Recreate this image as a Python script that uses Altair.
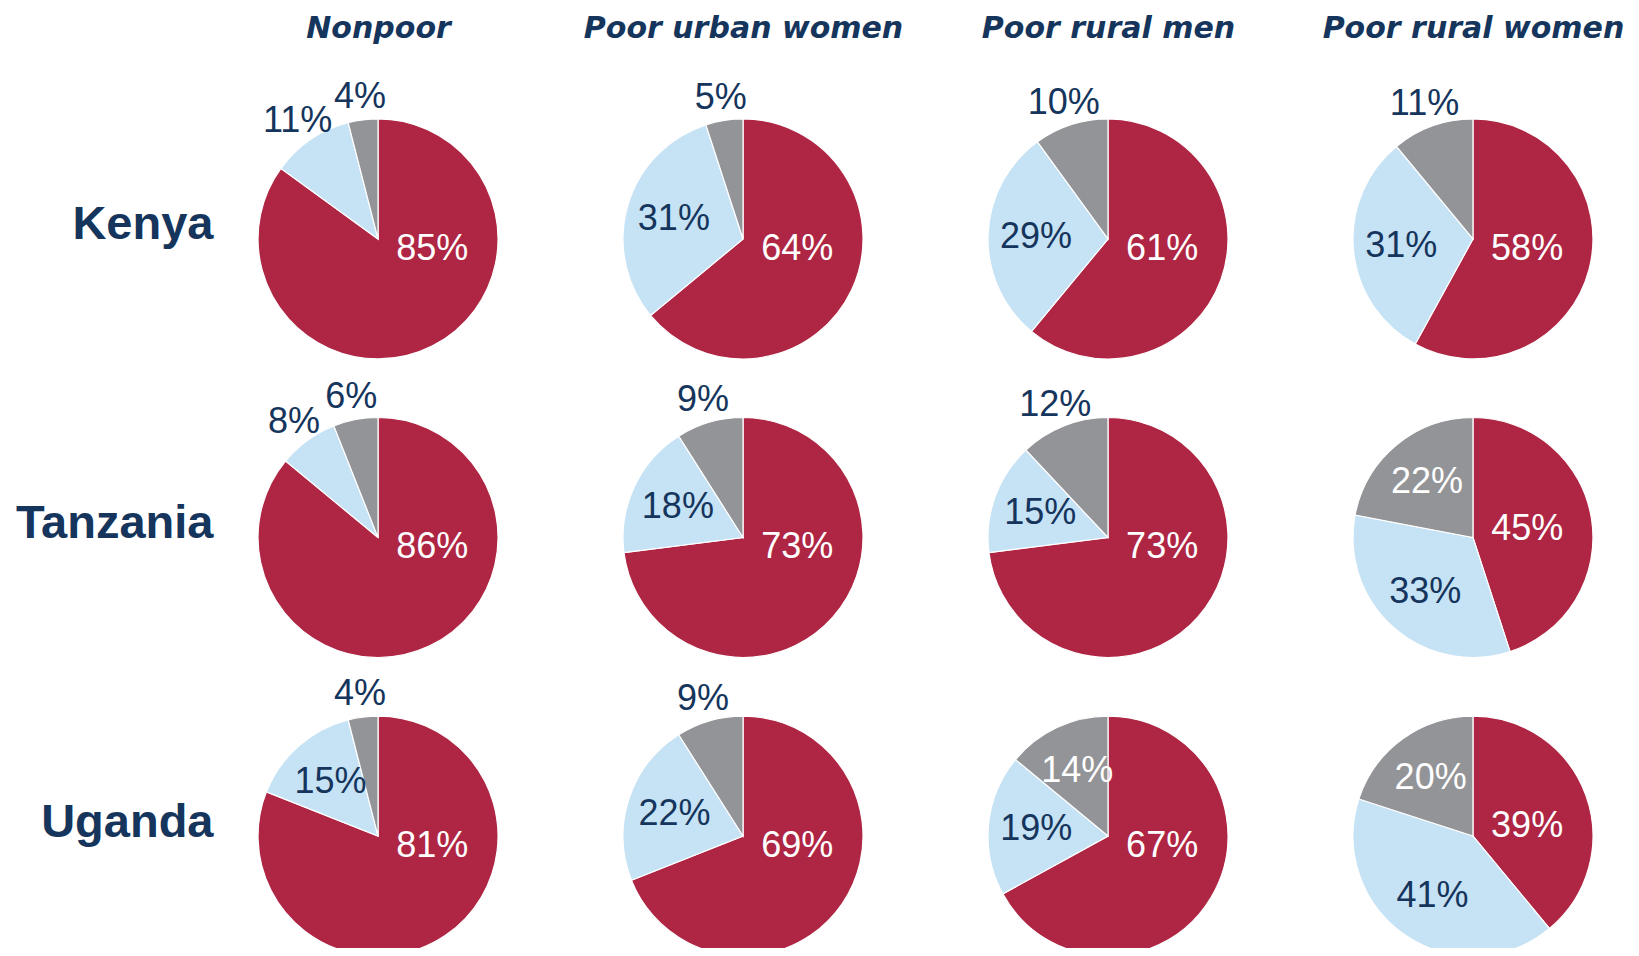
import altair as alt
import pandas as pd

countries = ["Kenya", "Tanzania", "Uganda"]
groups = ["Nonpoor", "Poor urban women", "Poor rural men", "Poor rural women"]
segments = ["A", "B", "C"]

# shares (%) per country (rows) and group (columns)
seg_a = [[85, 64, 61, 58], [86, 73, 73, 45], [81, 69, 67, 39]]
seg_b = [[11, 31, 29, 31], [8, 18, 15, 33], [15, 22, 19, 41]]
seg_c = [[4, 5, 10, 11], [6, 9, 12, 22], [4, 9, 14, 20]]

seg_colors = ["#AF2544", "#C6E2F5", "#939498"]
navy = "#15355C"

rows = []
for ci, c in enumerate(countries):
    for gi, g in enumerate(groups):
        for si, (s, arr) in enumerate(zip(segments, [seg_a, seg_b, seg_c])):
            v = arr[ci][gi]
            rows.append({"country": c, "group": g, "seg": s, "ord": si,
                         "value": v, "label": f"{v}%"})
df = pd.DataFrame(rows)

x_enc = alt.X("group:N", sort=groups,
              scale=alt.Scale(type="point", domain=groups, padding=0.433),
              axis=alt.Axis(orient="top", title=None, domain=False, ticks=False, tickSize=0,
                            grid=False, labelAngle=0, labelFont="DejaVu Sans",
                            labelFontWeight="bold", labelFontStyle="italic", labelFontSize=30,
                            labelColor=navy, labelPadding=90, labelBaseline="alphabetic",
                            labelLimit=0, labelOverlap=False, labelBound=False))
y_enc = alt.Y("country:N", sort=countries,
              scale=alt.Scale(type="point", domain=countries, padding=0.375),
              axis=alt.Axis(orient="left", title=None, domain=False, ticks=False, tickSize=0,
                            grid=False, labelFont="Liberation Sans", labelFontWeight="bold",
                            labelFontSize=47, labelColor=navy, labelPadding=7,
                            labelBaseline="alphabetic", labelAlign="right",
                            labelLimit=0, labelOverlap=False, labelBound=False))

base = alt.Chart(df).transform_window(
    cum="sum(value)", groupby=["country", "group"], sort=[alt.SortField("ord")], frame=[None, 0]
).transform_joinaggregate(
    total="sum(value)", groupby=["country", "group"]
).transform_calculate(
    start="(datum.cum - datum.value) / datum.total * 2 * PI",
    end="datum.cum / datum.total * 2 * PI",
    mid="(datum.cum - datum.value / 2) / datum.total * 2 * PI",
    outside="datum.value < 13",
).transform_calculate(
    ang="datum.seg == 'A' ? clamp(datum.mid, 80 * PI / 180, 100 * PI / 180) : datum.mid",
    rad="datum.outside ? 143 : (datum.seg == 'A' ? 55 : 72)",
    tcol=f"(datum.seg == 'A' || (datum.seg == 'C' && !datum.outside)) ? 'white' : '{navy}'",
)

arc = base.mark_arc(outerRadius=120, stroke="white", strokeWidth=1.2).encode(
    x=x_enc,
    y=y_enc,
    theta=alt.Theta("start:Q", scale=None),
    theta2=alt.Theta2("end:Q"),
    color=alt.Color("seg:N", scale=alt.Scale(domain=segments, range=seg_colors), legend=None),
)

text = base.mark_text(
    font="Liberation Sans", fontSize=36, align="center", baseline="middle"
).encode(
    x=alt.X("group:N", sort=groups),
    y=alt.Y("country:N", sort=countries),
    theta=alt.Theta("ang:Q", scale=None),
    radius=alt.Radius("rad:Q", scale=None),
    text=alt.Text("label:N"),
    color=alt.Color("tcol:N", scale=None),
)

chart = alt.layer(arc, text).resolve_scale(color="independent").properties(
    width=1411, height=821,
    padding={"left": 212, "top": 119, "right": 0, "bottom": 0},
    autosize=alt.AutoSizeParams(type="none"),
    background="white",
).configure_view(stroke=None)

chart.save("out.html", embed_options={"renderer": "svg", "actions": False})
